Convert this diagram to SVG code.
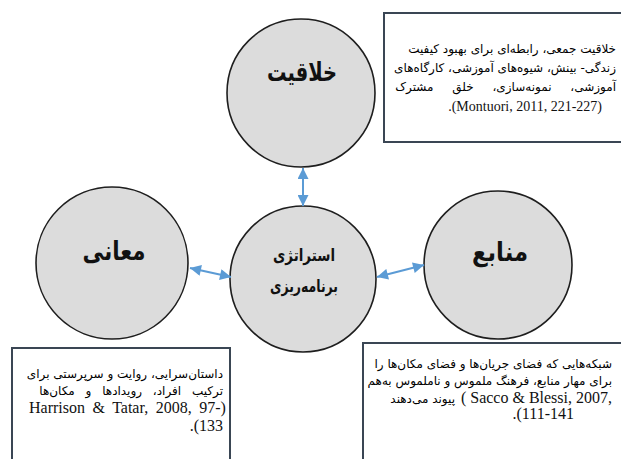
<svg xmlns="http://www.w3.org/2000/svg" width="621" height="459" viewBox="0 0 621 459">
<style>
.node circle{fill:#dcdcdc;stroke:#1e1e1e;stroke-width:1.6}
.title{font-family:'Noto Sans','DejaVu Sans',sans-serif;font-weight:bold;fill:#111;text-anchor:middle}
.box{fill:#fff;stroke:#3a4654;stroke-width:2}
.fa{font-family:'DejaVu Sans',sans-serif;font-size:12px;fill:#000;direction:rtl}
.en{font-family:'Liberation Serif',serif;fill:#111}
.conn line{stroke:#5b9bd5;stroke-width:2}
</style>
<defs>
<marker id="ah" viewBox="0 0 10 10" refX="10" refY="5" markerWidth="6" markerHeight="5.5" orient="auto-start-reverse" markerUnits="strokeWidth">
<path d="M0,0 L10,5 L0,10 z" fill="#5b9bd5"/>
</marker>
</defs>
<rect width="621" height="459" fill="#fff"/>

<g id="node-creativity" class="node">
<circle cx="301" cy="93" r="74"/>
<text class="title" x="302" y="81" font-size="26" textLength="70" lengthAdjust="spacingAndGlyphs">خلاقیت</text>
</g>
<g id="node-meanings" class="node">
<circle cx="112" cy="263" r="76"/>
<text class="title" x="114" y="260" font-size="26" textLength="63" lengthAdjust="spacingAndGlyphs">معانی</text>
</g>
<g id="node-resources" class="node">
<circle cx="498" cy="265" r="74"/>
<text class="title" x="500" y="261" font-size="26" textLength="56" lengthAdjust="spacingAndGlyphs">منابع</text>
</g>
<g id="node-strategy" class="node">
<circle cx="303" cy="279" r="73"/>
<text class="title" x="304" y="261" font-size="17" textLength="62" lengthAdjust="spacingAndGlyphs">استراتژی</text>
<text class="title" x="304" y="292" font-size="17" textLength="68" lengthAdjust="spacingAndGlyphs">برنامه‌ریزی</text>
</g>

<g id="connectors" class="conn">
<line x1="303" y1="168" x2="303" y2="206" marker-start="url(#ah)" marker-end="url(#ah)"/>
<line x1="190" y1="268" x2="231" y2="277" marker-start="url(#ah)" marker-end="url(#ah)"/>
<line x1="377" y1="277" x2="424" y2="265" marker-start="url(#ah)" marker-end="url(#ah)"/>
</g>

<g id="note-creativity">
<rect class="box" x="384" y="13" width="245" height="129"/>
<text class="fa" x="616" y="53">خلاقیت جمعی، رابطه‌ای برای بهبود کیفیت</text>
<text class="fa" x="616" y="72" font-size="11.6">زندگی- بینش، شیوه‌های آموزشی، کارگاه‌های</text>
<text class="fa" x="616" y="91" word-spacing="15">آموزشی، نمونه‌سازی، خلق مشترک</text>
<text class="en" x="602" y="111" font-size="14" text-anchor="end">.(Montuori, 2011, 221-227)</text>
</g>

<g id="note-meanings">
<rect class="box" x="12" y="348" width="218" height="120"/>
<text class="fa" x="223" y="378">داستان‌سرایی، روایت و سرپرستی برای</text>
<text class="fa" x="223" y="395" word-spacing="7">ترکیب افراد، رویدادها و مکان‌ها</text>
<text class="en" x="29" y="413" font-size="16" word-spacing="3.5">Harrison &amp; Tatar, 2008, 97-)</text>
<text class="en" x="223" y="431" font-size="16" text-anchor="end">.(133</text>
</g>

<g id="note-resources">
<rect class="box" x="363" y="343" width="265" height="125"/>
<text class="fa" x="612" y="368" font-size="11.6">شبکه‌هایی که فضای جریان‌ها و فضای مکان‌ها را</text>
<text class="fa" x="612" y="385" font-size="11.3">برای مهار منابع، فرهنگ ملموس و ناملموس به‌هم</text>
<text class="fa" x="455" y="403">پیوند می‌دهند</text>
<text class="en" x="612" y="403" font-size="16" text-anchor="end">( Sacco &amp; Blessi, 2007,</text>
<text class="en" x="574" y="419" font-size="16" text-anchor="end">.(111-141</text>
</g>
</svg>
